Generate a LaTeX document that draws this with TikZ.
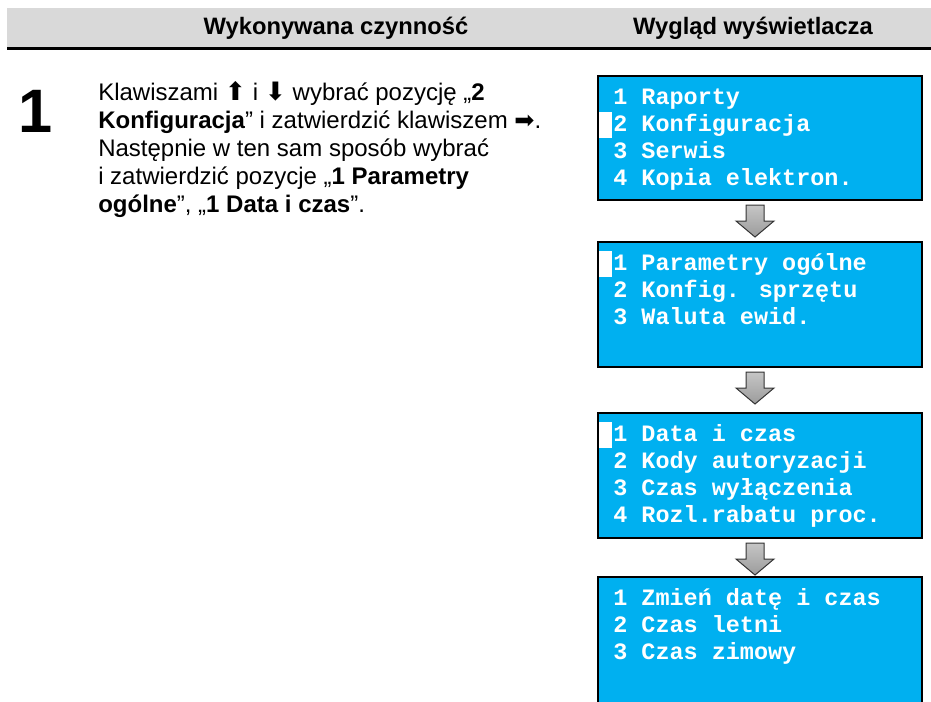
\documentclass[tikz,border=0pt]{standalone}
\usepackage{fontspec}
\setmainfont{Liberation Sans}
\newfontfamily\symfont{DejaVu Sans}
\newfontfamily\lcdfont{Liberation Mono}
\definecolor{hdrgray}{HTML}{D9D9D9}
\definecolor{lcdcyan}{HTML}{00B0F0}
\usetikzlibrary{calc}
\newcommand{\upk}{{\symfont\fontsize{19}{19}\selectfont ⬆}}
\newcommand{\dnk}{{\symfont\fontsize{19}{19}\selectfont ⬇}}
\newcommand{\rtk}{{\symfont\fontsize{18}{18}\selectfont ➡}}
\begin{document}
\begin{tikzpicture}[x=0.75pt,y=-0.75pt,
  hdr/.style={font=\fontsize{17.8}{20}\selectfont\bfseries, inner sep=0pt},
  lcdbox/.style={fill=lcdcyan, draw=black, line width=1.5pt},
  lcdline/.style={font=\fontsize{17.6}{20}\selectfont\lcdfont\bfseries, text=white, inner sep=0pt, anchor=base west},
  flowarrow/.style={top color=gray!45, bottom color=gray!78, draw=black!80, line width=0.75pt},
  para/.style={font=\fontsize{18}{21}\selectfont, inner sep=0pt, anchor=base west}
]
\useasboundingbox (0,0) rectangle (931,701);
% header band
\fill[hdrgray] (7,8) rectangle (931,47);
\draw[line width=1.8pt] (7,48.3) -- (931,48.3);
\node[hdr] (h1) at (336,28) {Wykonywana czynność};
\node[hdr] (h2) at (753,28) {Wygląd wyświetlacza};
% step number
\node[font=\fontsize{46}{46}\selectfont\bfseries, inner sep=0pt, anchor=base] (num) at (36,132) {1};
% paragraph
\node[para] (t1) at (98,100) {Klawiszami \upk{} i \dnk{} wybrać pozycję „\textbf{2}};
\node[para] (t2) at (98,128) {\textbf{Konfiguracja}” i zatwierdzić klawiszem \rtk.};
\node[para] (t3) at (98,156) {Następnie w ten sam sposób wybrać};
\node[para] (t4) at (98,184) {i zatwierdzić pozycje „\textbf{1 Parametry}};
\node[para] (t5) at (98,212) {\textbf{ogólne}”, „\textbf{1 Data i czas}”.};
% LCD boxes
\path[lcdbox] (598,76) rectangle (922,200);
\path[lcdbox] (598,242) rectangle (922,367);
\path[lcdbox] (598,413) rectangle (922,538);
\fill[lcdcyan] (598,577) rectangle (922,705);
\draw[line width=1.5pt] (598,705) -- (598,577) -- (922,577) -- (922,705);
% cursors
\fill[white] (599,112) rectangle (612,138);
\fill[white] (599,251) rectangle (612,277);
\fill[white] (599,422) rectangle (612,448);
% box 1 text
\node[lcdline] (l11) at (613,104) {1 Raporty};
\node[lcdline] (l12) at (613,131) {2 Konfiguracja};
\node[lcdline] (l13) at (613,158) {3 Serwis};
\node[lcdline] (l14) at (613,185) {4 Kopia elektron.};
% box 2 text
\node[lcdline] (l21) at (613,270) {1 Parametry ogólne};
\node[lcdline] (l22) at (613,297) {2 Konfig. sprzętu};
\node[lcdline] (l23) at (613,324) {3 Waluta ewid.};
% box 3 text
\node[lcdline] (l31) at (613,441) {1 Data i czas};
\node[lcdline] (l32) at (613,468) {2 Kody autoryzacji};
\node[lcdline] (l33) at (613,495) {3 Czas wyłączenia};
\node[lcdline] (l34) at (613,522) {4 Rozl.rabatu proc.};
% box 4 text
\node[lcdline] (l41) at (613,605) {1 Zmień datę i czas};
\node[lcdline] (l42) at (613,632) {2 Czas letni};
\node[lcdline] (l43) at (613,659) {3 Czas zimowy};
% flow arrows
\foreach \t/\n in {205/a1,372/a2,543/a3}{
  \path[flowarrow] (746,\t) -- (764,\t) -- (764,\t+16) -- (774,\t+16) -- (755,\t+32) -- (736,\t+16) -- (746,\t+16) -- cycle;
}
\end{tikzpicture}
\end{document}
